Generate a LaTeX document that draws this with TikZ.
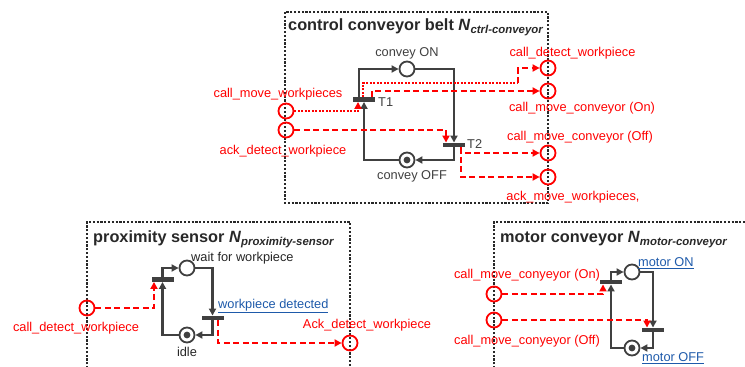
\documentclass[tikz,border=0pt]{standalone}
\usepackage{fontspec}
\setmainfont{Liberation Sans}
\usetikzlibrary{arrows.meta}
\definecolor{netgray}{RGB}{64,64,64}
\definecolor{pred}{RGB}{255,0,0}
\definecolor{lblue}{RGB}{30,90,170}
\definecolor{boxc}{RGB}{40,40,40}
\newcommand{\mytitle}[2]{#1 \textit{N}\raisebox{-3pt}{\fontsize{11.4}{12}\selectfont\itshape #2}}
\begin{document}
\begin{tikzpicture}[x=1pt,y=-1pt,
  tip/.style={-{Triangle[length=7pt,width=7pt]}},
  net/.style={draw=netgray, line width=2.3pt, tip},
  reddash/.style={draw=pred, line width=2.1pt, dash pattern=on 6pt off 3.5pt, tip},
  reddot/.style={draw=pred, line width=2.1pt, dash pattern=on 2pt off 1.5pt, tip},
  reddotplain/.style={draw=pred, line width=2.1pt, dash pattern=on 2pt off 1.5pt},
  netbox/.style={draw=boxc, line width=1.2pt, dash pattern=on 2.2pt off 1.6pt},
  place/.style={circle, draw=netgray, line width=1.8pt, minimum size=15pt, inner sep=0pt, fill=white},
  port/.style={circle, draw=pred, line width=1.8pt, minimum size=15pt, inner sep=0pt},
  trans/.style={rectangle, fill=netgray, minimum width=22pt, minimum height=4.5pt, inner sep=0pt},
  lbl/.style={text=pred, font=\fontsize{12.8}{14}\selectfont, inner sep=0pt},
  glbl/.style={text=netgray, font=\fontsize{12.8}{14}\selectfont, inner sep=0pt},
  blbl/.style={text=lblue, font=\fontsize{12.8}{14}\selectfont, inner sep=0pt},
  ttl/.style={text=boxc, font=\bfseries\fontsize{16.3}{18}\selectfont, inner sep=0pt, anchor=base west}
]
\useasboundingbox (0,0) rectangle (745,367);

% ---------- boxes ----------
\draw[netbox] (285,12) rectangle (548,203);
\draw[netbox] (87,372) -- (87,222) -- (350,222) -- (350,372);
\draw[netbox] (494,372) -- (494,222) -- (750,222);

% ---------- titles ----------
\node[ttl] (title1) at (288,30) {\mytitle{control conveyor belt}{ctrl-conveyor}};
\node[ttl] (title2) at (93,242) {\mytitle{proximity sensor}{proximity-sensor}};
\node[ttl] (title3) at (500,242) {\mytitle{motor conveyor}{motor-conveyor}};

% ========== control conveyor belt ==========
\node[place] (ON) at (407,69) {};
\node[place] (OFF) at (407,160) {};
\fill[netgray] (OFF) circle (3.4pt);
\node[trans] (T1) at (364,99.5) {};
\node[trans] (T2) at (454,145) {};
\node[glbl] (lON) at (407,53) {convey ON};
\node[glbl] (lOFF) at (412,176) {convey OFF};
\node[glbl, anchor=west] (lT1) at (378,102) {T1};
\node[glbl, anchor=west] (lT2) at (467,144) {T2};

\node[port] (pCMW) at (286,111) {};
\node[port] (pADW) at (286,130) {};
\node[port] (pCDW) at (548,68) {};
\node[port] (pCMCon) at (548,91) {};
\node[port] (pCMCoff) at (548,153) {};
\node[port] (pAMW) at (548,177) {};
\coordinate (c1) at (518,83);

\node[lbl] (lCMW) at (278,94) {call\_move\_workpieces};
\node[lbl] (lADW) at (283,151) {ack\_detect\_workpiece};
\node[lbl] (lCDW) at (572.5,53) {call\_detect\_workpiece};
\node[lbl] (lCMCon) at (582,108) {call\_move\_conveyor (On)};
\node[lbl] (lCMCoff) at (580,137) {call\_move\_conveyor (Off)};
\node[lbl] (lAMW) at (573,197) {ack\_move\_workpieces,};

\draw[net] ([xshift=-5pt]T1.north) |- (ON);
\draw[net] (ON) -| (T2.north);
\draw[net] (T2.south) |- (OFF);
\draw[net] (OFF) -| (T1.south);

\draw[reddot] (pCMW) -| ([xshift=-6pt]T1.south);
\draw[reddotplain] ([xshift=-1pt]T1.north) |- (c1);
\draw[reddash] (c1) |- (pCDW);
\draw[reddash] ([xshift=8pt]T1.north) |- (pCMCon);
\draw[reddash] (pADW) -| ([xshift=-8pt]T2.north);
\draw[reddash] ([xshift=7pt]T2.south) |- (pCMCoff);
\draw[reddash] ([xshift=7pt]T2.south) |- (pAMW);

% ========== proximity sensor ==========
\node[place] (Wait) at (187,268) {};
\node[place] (Idle) at (187,335) {};
\fill[netgray] (Idle) circle (3.4pt);
\node[trans] (TA) at (162.5,279.5) {};
\node[trans] (TB) at (212.5,318) {};
\node[glbl, text=black!85, anchor=west] (lWait) at (191,258) {wait for workpiece};
\node[blbl, anchor=west] (lDet) at (218,306) {\underline{workpiece detected}};
\node[glbl, text=black!85] (lIdle) at (187,352) {idle};

\node[port] (pPCDW) at (87,308) {};
\node[port] (pPADW) at (350,343) {};
\node[lbl] (lPCDW) at (76,328) {call\_detect\_workpiece};
\node[lbl] (lPADW) at (367,325) {Ack\_detect\_workpiece};

\draw[net] (TA.north) |- (Wait);
\draw[net] (Wait) -| (TB.north);
\draw[net] (TB.south) |- (Idle);
\draw[net] (Idle) -| (TA.south);
\draw[reddash] (pPCDW) -| ([xshift=-8.5pt]TA.south);
\draw[reddash] ([xshift=5.5pt]TB.south) |- (pPADW);

% ========== motor conveyor ==========
\node[place] (MON) at (632,272) {};
\node[place] (MOFF) at (632,348) {};
\fill[netgray] (MOFF) circle (3.4pt);
\node[trans] (TC) at (611,282) {};
\node[trans] (TD) at (653,330) {};
\node[blbl, anchor=west] (lMON) at (638,263) {\underline{motor ON}};
\node[blbl, anchor=west] (lMOFF) at (642,358) {\underline{motor OFF}};

\node[port] (pMon) at (494,294) {};
\node[port] (pMoff) at (494,320) {};
\node[lbl] (lMon) at (527,275) {call\_move\_conyeyor (On)};
\node[lbl] (lMoff) at (527,341) {call\_move\_conyeyor (Off)};

\draw[net] (TC.north) |- (MON);
\draw[net] (MON) -| (TD.north);
\draw[net] (TD.south) |- (MOFF);
\draw[net] (MOFF) -| (TC.south);
\draw[reddash] (pMon) -| ([xshift=-8pt]TC.south);
\draw[reddash] (pMoff) -| ([xshift=-6pt]TD.north);
\end{tikzpicture}
\end{document}
